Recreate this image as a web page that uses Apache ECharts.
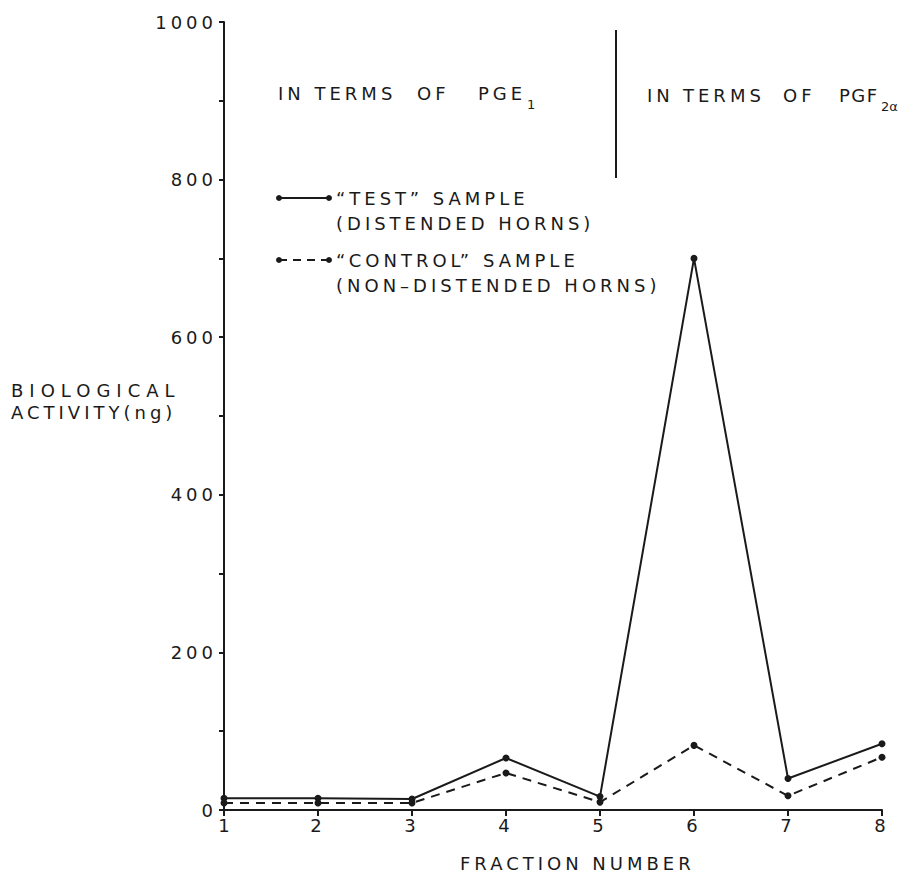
<!DOCTYPE html>
<html lang="en">
<head>
<meta charset="UTF-8">
<title>Biological activity</title>
<script src="https://cdn.jsdelivr.net/npm/echarts@6/dist/echarts.min.js"></script>
<style>
    html, body { margin: 0; padding: 0; background: #fff; }
    #main { width: 924px; height: 880px; }
    #main text { letter-spacing: 4px; }
</style>
</head>
<body>
<div id="main"></div>

<script>
    // fraction numbers on the x axis
    var fractions = [1, 2, 3, 4, 5, 6, 7, 8];
    // "TEST" sample (distended horns), ng
    var testValues = [15, 15, 14, 66, 17, 700, 40, 84];
    // "CONTROL" sample (non-distended horns), ng
    var controlValues = [9, 9, 9, 47, 10, 82, 18, 67];
    // y axis tick labels
    var yTicks = [0, 200, 400, 600, 800, 1000];
    // divider between the PGE1 and PGF2a parts, [x, yFrom, yTo]
    var divider = [5.17, 990, 802];

    var ink = '#1a1a1a';
    var font = 'DejaVu Sans';

    var chartDom = document.getElementById('main');
    var myChart = echarts.init(chartDom, null, { renderer: 'svg' });

    function pairs(vals) {
        return fractions.map(function (f, i) { return [f, vals[i]]; });
    }

    // plain text piece, y is the middle of the text
    function label(txt, x, y, size) {
        size = size || 18;
        return { type: 'text', left: x, top: y - size / 2,
                 style: { text: txt, font: size + 'px "' + font + '"', fill: ink } };
    }

    function legendEntry(y, dashed, line1, line2) {
        return [
            { type: 'line', shape: { x1: 279, y1: y, x2: 329, y2: y },
              style: { stroke: ink, lineWidth: 2, lineDash: dashed ? [8, 6] : null } },
            { type: 'circle', shape: { cx: 279, cy: y, r: 3 }, style: { fill: ink } },
            { type: 'circle', shape: { cx: 329, cy: y, r: 3 }, style: { fill: ink } },
            label(line1, 336, y),
            label(line2, 336, y + 25)
        ];
    }

    var option = {
        animation: false,
        backgroundColor: '#fff',
        grid: { left: 224, right: 42, top: 22, bottom: 70 },
        xAxis: {
            type: 'value',
            min: fractions[0],
            max: fractions[fractions.length - 1],
            interval: 1,
            axisLine: { lineStyle: { color: ink, width: 2 } },
            axisTick: { show: true, length: 6, lineStyle: { color: ink, width: 2 } },
            splitLine: { show: false },
            axisLabel: { color: ink, fontSize: 18, fontFamily: font, margin: 6 }
        },
        yAxis: {
            type: 'value',
            min: yTicks[0],
            max: yTicks[yTicks.length - 1],
            interval: yTicks[1] - yTicks[0],
            axisLine: { show: true, lineStyle: { color: ink, width: 2 } },
            axisTick: { show: true, length: 5, lineStyle: { color: ink, width: 2 } },
            minorTick: { show: true, splitNumber: 2, length: 5, lineStyle: { color: ink, width: 2 } },
            splitLine: { show: false },
            axisLabel: {
                color: ink, fontSize: 18, fontFamily: font, margin: 7,
                formatter: function (v) { return String(v); }
            }
        },
        graphic: [
            label('IN TERMS', 278, 93),
            label('OF', 417, 93),
            label('PGE', 478, 93),
            label('1', 527, 104, 13),
            label('IN', 647, 95),
            label('TERMS', 683, 95),
            label('OF', 783, 95),
            label('PGF', 839, 95),
            label('2\u03B1', 881, 106, 13),
            label('BIOLOGICAL', 11, 390),
            label('ACTIVITY(ng)', 11, 412),
            label('FRACTION NUMBER', 460, 863)
        ].concat(legendEntry(198, false, '\u201CTEST\u201D SAMPLE', '(DISTENDED HORNS)'))
         .concat(legendEntry(260, true, '\u201CCONTROL\u201D SAMPLE', '(NON\u2013DISTENDED HORNS)')),
        series: [
            {
                name: 'TEST',
                type: 'line',
                data: pairs(testValues),
                symbol: 'circle',
                symbolSize: 7,
                itemStyle: { color: ink },
                lineStyle: { color: ink, width: 2 },
                markLine: {
                    silent: true,
                    symbol: 'none',
                    label: { show: false },
                    lineStyle: { color: ink, width: 2, type: 'solid' },
                    data: [[{ coord: [divider[0], divider[1]] }, { coord: [divider[0], divider[2]] }]]
                }
            },
            {
                name: 'CONTROL',
                type: 'line',
                data: pairs(controlValues),
                symbol: 'circle',
                symbolSize: 7,
                itemStyle: { color: ink },
                lineStyle: { color: ink, width: 2, type: [9, 7] }
            }
        ]
    };

    // wider lettering for a few labels, as in the hand lettered original
    var spacing = { 'BIOLOGICAL': '6px', 'PGF': '1.5px', '1': '0px', '2\u03B1': '0px' };
    function applySpacing() {
        document.querySelectorAll('#main text').forEach(function (t) {
            if (spacing[t.textContent] !== undefined) t.style.letterSpacing = spacing[t.textContent];
        });
    }
    myChart.on('finished', applySpacing);
    myChart.setOption(option);
    applySpacing();
</script>
</body>
</html>
